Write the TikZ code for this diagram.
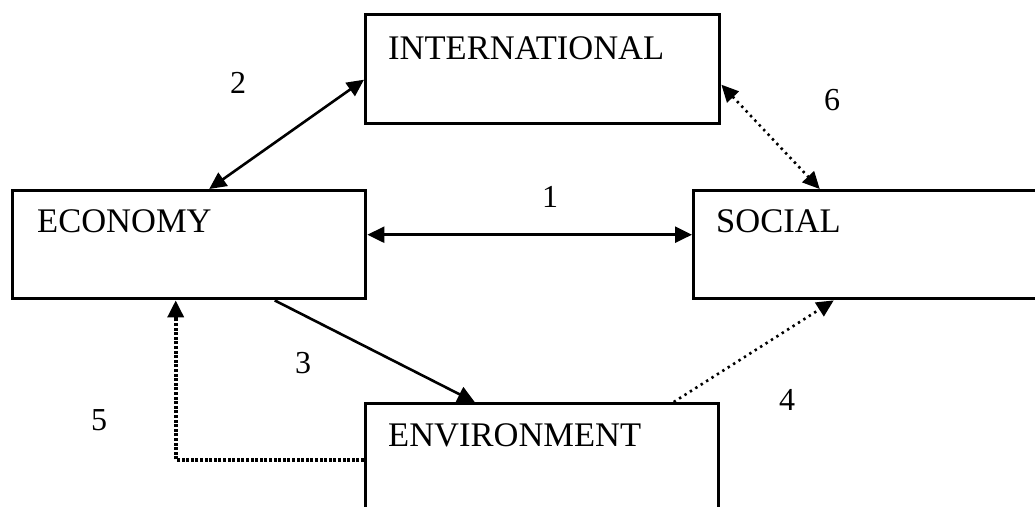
\documentclass[tikz,border=0pt]{standalone}
\usepackage{fontspec}
\setmainfont{Liberation Serif}
\usetikzlibrary{arrows.meta,calc}
\begin{document}
\begin{tikzpicture}[x=1pt,y=-1pt,
  boxnode/.style={draw,line width=3.4pt,minimum width=353pt,minimum height=108pt,inner sep=0pt,anchor=north west},
  lbl/.style={anchor=base west,inner sep=0pt,font=\fontsize{34.5}{40}\selectfont},
  num/.style={inner sep=0pt,font=\fontsize{32}{38}\selectfont},
  tip/.style={-{Triangle[length=17pt,width=16pt]}},
  bitip/.style={{Triangle[length=17pt,width=16pt]}-{Triangle[length=17pt,width=16pt]}},
  solidcon/.style={line width=2.6pt},
  dotcon/.style={line width=2.6pt,dash pattern=on 2.4pt off 4pt},
  densecon/.style={line width=3.6pt,dash pattern=on 3pt off 1.6pt}]
\clip (0,0) rectangle (1035,506);
\fill[white] (0,0) rectangle (1035,506);
% boxes
\node[boxnode,minimum width=354pt,minimum height=109pt] (intl) at (364,13) {};
\node[boxnode] (econ) at (11,189) {};
\node[boxnode] (soc) at (692,189) {};
\node[boxnode] (env) at (364,402) {};
% labels
\node[lbl] (tintl) at (388,59) {INTERNATIONAL};
\node[lbl] (tecon) at (37,232) {ECONOMY};
\node[lbl] (tsoc) at (716,232) {SOCIAL};
\node[lbl] (tenv) at (388,446) {ENVIRONMENT};
% connectors
\draw[solidcon,bitip] ([yshift=10pt]econ.east) -- ([yshift=10pt]soc.west);
\draw[solidcon,bitip] ([yshift=-10.5pt]intl.west) -- ([xshift=20pt]econ.north);
\draw[dotcon,bitip] ([yshift=-15.5pt]intl.east) -- ([xshift=-50.5pt]soc.north);
\draw[solidcon,tip] ([xshift=85.5pt]econ.south) -- ([xshift=-67.5pt]env.north);
\draw[dotcon,tip] ([xshift=131.5pt]env.north) -- ([xshift=-36.5pt]soc.south);
\draw[densecon,tip] ([yshift=-2pt]env.west) -| ([xshift=-13.5pt]econ.south);
% numbers
\node[num] (n1) at (550,197) {1};
\node[num] (n2) at (238,83) {2};
\node[num] (n3) at (303,363) {3};
\node[num] (n4) at (787,400) {4};
\node[num] (n5) at (99,420) {5};
\node[num] (n6) at (832,100) {6};
\end{tikzpicture}
\end{document}
